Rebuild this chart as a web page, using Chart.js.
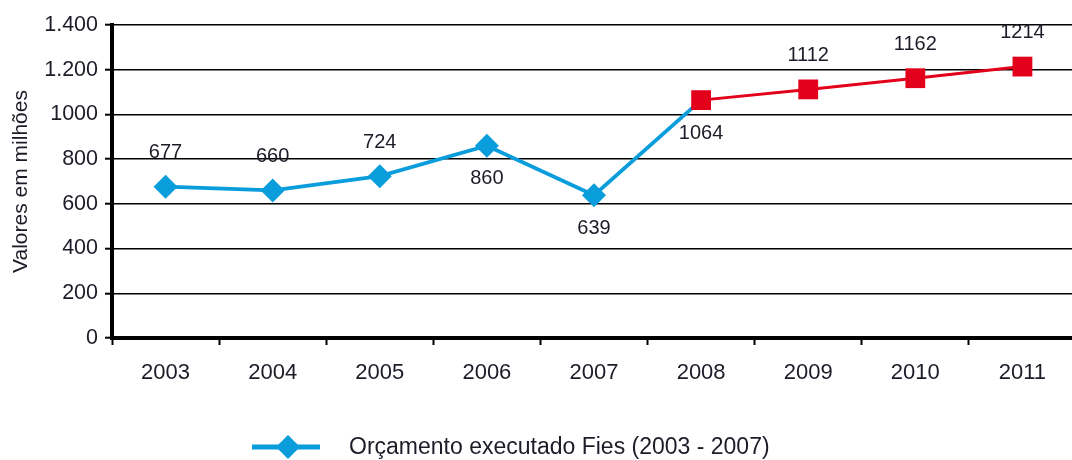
<!DOCTYPE html>
<html>
<head>
<meta charset="utf-8">
<script src="https://cdn.jsdelivr.net/npm/chart.js@4/dist/chart.umd.min.js"></script>
<style>
  html, body { margin: 0; padding: 0; background: #fff; overflow: hidden; }
  #wrap { width: 1090px; height: 460px; }
</style>
</head>
<body>
<div id="wrap"><canvas id="c"></canvas></div>
<script>
const categories = ['2003','2004','2005','2006','2007','2008','2009','2010','2011'];
const executado = [677, 660, 724, 860, 639, 1064, null, null, null];
const projetado = [null, null, null, null, null, 1064, 1112, 1162, 1214];
const yTickLabels = ['0','200','400','600','800','1000','1.200','1.400'];
const legendLabel = 'Orçamento executado Fies (2003 - 2007)';
const yTitle = 'Valores em milhões';

const BLUE = '#0a9ddc';
const RED = '#e2001a';
const FONT = '"Liberation Sans", Arial, sans-serif';
const TXT = '#1c1c28';
const labelBelow = [false, false, false, true, true, true, false, false, false];

const labelsPlugin = {
  id: 'pointLabels',
  afterDatasetsDraw(chart) {
    const ctx = chart.ctx;
    const xs = chart.scales.x, ys = chart.scales.y;
    const done = new Set();
    ctx.save();
    ctx.font = '20px ' + FONT;
    ctx.fillStyle = TXT;
    ctx.textAlign = 'center';
    ctx.textBaseline = 'middle';
    chart.data.datasets.forEach(ds => {
      ds.data.forEach((v, i) => {
        if (v === null || done.has(i)) return;
        done.add(i);
        const x = xs.getPixelForValue(i);
        const y = ys.getPixelForValue(v);
        ctx.fillText(String(v), x, labelBelow[i] ? y + 33 : y - 34);
      });
    });
    ctx.restore();
  }
};

const legendPlugin = {
  id: 'customLegend',
  afterDraw(chart) {
    const ctx = chart.ctx;
    const y = 447;
    ctx.save();
    ctx.strokeStyle = BLUE;
    ctx.lineWidth = 5;
    ctx.beginPath();
    ctx.moveTo(252, y); ctx.lineTo(320, y);
    ctx.stroke();
    ctx.fillStyle = BLUE;
    ctx.beginPath();
    ctx.moveTo(288, y - 12); ctx.lineTo(300, y); ctx.lineTo(288, y + 12); ctx.lineTo(276, y);
    ctx.closePath(); ctx.fill();
    ctx.font = '23px ' + FONT;
    ctx.fillStyle = TXT;
    ctx.textAlign = 'left';
    ctx.textBaseline = 'middle';
    ctx.fillText(legendLabel, 349, y + 1);
    ctx.restore();
  }
};

new Chart(document.getElementById('c'), {
  type: 'line',
  data: {
    labels: categories,
    datasets: [
      {
        label: 'Projeção',
        data: projetado,
        borderColor: RED,
        backgroundColor: RED,
        borderWidth: 3,
        pointStyle: 'rect',
        pointRadius: 14,
        pointHoverRadius: 14,
        pointBorderWidth: 0,
        tension: 0
      },
      {
        label: legendLabel,
        data: executado,
        borderColor: BLUE,
        backgroundColor: BLUE,
        borderWidth: 3.8,
        pointStyle: 'rectRot',
        pointRadius: c => (projetado[c.dataIndex] !== null ? 0 : 12),
        pointHoverRadius: c => (projetado[c.dataIndex] !== null ? 0 : 12),
        pointBorderWidth: 0,
        tension: 0
      }
    ]
  },
  options: {
    responsive: true,
    maintainAspectRatio: false,
    animation: false,
    events: [],
    layout: { padding: { left: 0, top: 25, right: 3, bottom: 0 } },
    plugins: { legend: { display: false }, tooltip: { enabled: false } },
    scales: {
      x: {
        offset: true,
        afterFit(s) { s.height = 122; },
        grid: {
          offset: true,
          drawOnChartArea: false,
          drawTicks: true,
          tickLength: 7,
          tickWidth: 2,
          tickColor: '#000'
        },
        border: { display: true, color: '#000', width: 4 },
        ticks: {
          color: TXT,
          font: { family: FONT, size: 22 },
          padding: 15,
          maxRotation: 0
        }
      },
      y: {
        min: 0,
        max: 1400,
        afterFit(s) { s.width = 112; },
        grid: {
          color: '#000',
          lineWidth: 1.4,
          tickLength: 7,
          tickWidth: 2,
          tickColor: '#000'
        },
        border: { display: true, color: '#000', width: 4 },
        ticks: {
          stepSize: 200,
          color: TXT,
          font: { family: FONT, size: 21.5 },
          padding: 7,
          callback: v => yTickLabels[Math.round(v / 200)]
        },
        title: {
          display: true,
          text: yTitle,
          color: TXT,
          font: { family: FONT, size: 21 },
          padding: { top: 9, bottom: 0 }
        }
      }
    }
  },
  plugins: [labelsPlugin, legendPlugin]
});
</script>
</body>
</html>
